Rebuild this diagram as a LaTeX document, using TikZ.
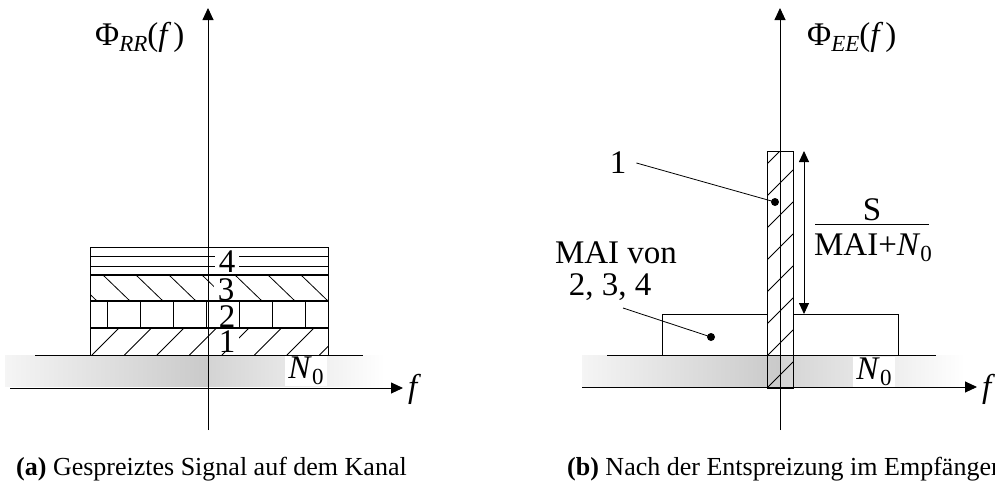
\documentclass[tikz,border=0pt]{standalone}
\usepackage{fontspec}
\setmainfont{Liberation Serif}
\usetikzlibrary{arrows.meta}
\newcommand{\lsub}[1]{\raisebox{-6pt}{\fontsize{23}{23}\selectfont #1}}
\begin{document}
\begin{tikzpicture}[x=1pt,y=-1pt,
  lbl/.style={font=\fontsize{33}{36}\selectfont, inner sep=0pt},
  captext/.style={font=\fontsize{26}{30}\selectfont, inner sep=0pt, anchor=base west},
  num/.style={font=\fontsize{33}{36}\selectfont, fill=white, inner xsep=4pt, inner ysep=0pt, text height=22pt, text depth=0pt},
  axis/.style={line width=0.9pt, -{Triangle[length=12pt,width=11pt]}},
  thin/.style={line width=0.8pt},
  border/.style={line width=1.3pt},
  hatch/.style={line width=0.8pt},
  dot/.style={circle, fill=black, inner sep=0pt, minimum size=8pt},
  noise/.style={font=\fontsize{33}{36}\selectfont, fill=white, inner xsep=3pt, inner ysep=1pt},
]
\useasboundingbox (0,0) rectangle (995,482);

% ---------------- panel (a) ----------------
\shade[left color=gray!8, right color=gray!42] (5,355) rectangle (208,386);
\shade[left color=gray!34, right color=white] (208,355) rectangle (385,386);

\begin{scope}
  \clip (90,328) rectangle (328,355);
  \foreach \x in {92,124.5,...,330} \draw[hatch] (\x,355) -- ++(27,-27);
\end{scope}
\foreach \x in {107,140,173,206,239,272,305} \draw[hatch] (\x,301) -- (\x,328);
\begin{scope}
  \clip (90,275) rectangle (328,301);
  \foreach \x in {70,103,...,310} \draw[hatch] (\x,275) -- ++(27,26);
\end{scope}
\draw[hatch] (90,256.5) -- (328,256.5);
\draw[hatch] (90,266) -- (328,266);

\node[num] (n4) at (227,261) {4};
\node[num] (n3) at (226,289) {3};
\node[num] (n2) at (227,316) {2};
\node[num] (n1) at (227,341) {1};

\draw[thin] (90,247) rectangle (328,355);
\draw[border] (90,275) -- (328,275);
\draw[border] (90,301) -- (328,301);
\draw[border] (90,328) -- (328,328);
\draw[thin] (35,355) -- (363,355);

\node[noise] (n0a) at (306,371) {\textit{N}\lsub{0}};

\coordinate (fa0) at (10,388);
\coordinate (fa1) at (403,388);
\draw[axis] (fa0) -- (fa1);
\node[lbl, anchor=base west] (fa) at (408,397) {\textit{f}};
\coordinate (va0) at (208,430);
\coordinate (va1) at (208,8);
\draw[axis] (va0) -- (va1);
\node[lbl, anchor=base west] (phia) at (95,45) {Φ\lsub{\textit{RR}}(\textit{f}\kern2pt)};

\node[captext] (capa) at (16,475) {\textbf{(a)} Gespreiztes Signal auf dem Kanal};

% ---------------- panel (b) ----------------
\shade[left color=gray!8, right color=gray!42] (582,355) rectangle (780,386);
\shade[left color=gray!34, right color=white] (780,355) rectangle (965,386);
\draw[thin] (607,355) -- (936,355);
\draw[thin] (662,314) rectangle (898,355);

\fill[white] (767,151) rectangle (793,354.4);
\begin{scope}
  \clip (767,151) rectangle (793,388);
  \foreach \y in {164,196,...,420} \draw[hatch] (767,\y) -- ++(26,-26);
\end{scope}
\draw[thin] (767,151) rectangle (793,388);

\coordinate (fb0) at (582,387);
\coordinate (fb1) at (977,387);
\draw[axis] (fb0) -- (fb1);
\node[lbl, anchor=base west] (fb) at (982,397) {\textit{f}};
\coordinate (vb0) at (780,430);
\coordinate (vb1) at (780,8);
\draw[axis] (vb0) -- (vb1);
\node[lbl, anchor=base west] (phib) at (807,45) {Φ\lsub{\textit{EE}}(\textit{f}\kern2pt)};

\node[noise] (n0b) at (874,372) {\textit{N}\lsub{0}};

\coordinate (da) at (804,151);
\coordinate (db) at (804,314);
\draw[line width=0.9pt, {Triangle[length=11pt,width=10pt]}-{Triangle[length=11pt,width=10pt]}] (da) -- (db);

\node[lbl, anchor=base] (fS) at (872,220) {S};
\node[lbl, anchor=base] (fD) at (873,255) {MAI+\textit{N}\lsub{0}};
\draw[thin] (815,224) -- (929,224);

\node[lbl, inner xsep=10pt] (one) at (618,163) {1};
\node[dot] (d1) at (775,202) {};
\draw[thin] (one.east) -- (d1.center);

\node[lbl] (mai1) at (616,253) {MAI von};
\node[lbl] (mai2) at (610,287) {2, 3, 4};
\coordinate (maiL) at (623,308);
\node[dot] (d2) at (711,337) {};
\draw[thin] (maiL) -- (d2.center);

\node[captext] (capb) at (567,475) {\textbf{(b)} Nach der Entspreizung im Empfänger};
\end{tikzpicture}
\end{document}
